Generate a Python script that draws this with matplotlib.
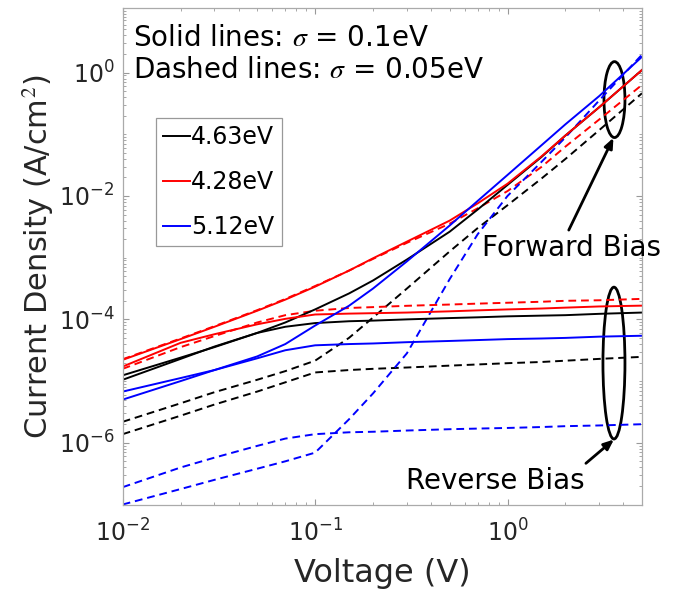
import numpy as np
import matplotlib
matplotlib.use('Agg')
import matplotlib.pyplot as plt
from matplotlib.patches import Ellipse
from matplotlib.lines import Line2D
from matplotlib.ticker import LogLocator, LogFormatterMathtext, NullFormatter

plt.rcParams['font.family'] = 'DejaVu Sans'
plt.rcParams['mathtext.fontset'] = 'stix'

# voltage grid (V)
voltage = [0.01, 0.02, 0.03, 0.05, 0.07, 0.1, 0.15, 0.2, 0.3, 0.5, 0.7, 1, 1.5, 2, 3, 5]

# current density (A/cm^2), solid lines: sigma = 0.1 eV
black_fwd = [1.24e-5, 2.40e-5, 3.55e-5, 6.03e-5, 8.91e-5, 1.45e-4, 2.63e-4, 4.27e-4,
             9.33e-4, 2.63e-3, 6.03e-3, 1.51e-2, 4.27e-2, 9.55e-2, 2.75e-1, 1.10]
black_rev = [1.05e-5, 2.29e-5, 3.63e-5, 6.03e-5, 7.59e-5, 8.71e-5, 9.33e-5, 9.55e-5,
             1.0e-4, 1.05e-4, 1.08e-4, 1.12e-4, 1.15e-4, 1.17e-4, 1.23e-4, 1.29e-4]
red_fwd = [2.21e-5, 4.79e-5, 7.59e-5, 1.38e-4, 2.09e-4, 3.39e-4, 6.17e-4, 9.77e-4,
           1.82e-3, 3.98e-3, 7.59e-3, 1.58e-2, 4.37e-2, 9.55e-2, 2.75e-1, 1.10]
red_rev = [1.72e-5, 4.17e-5, 5.75e-5, 8.32e-5, 1.02e-4, 1.20e-4, 1.24e-4, 1.26e-4,
           1.29e-4, 1.35e-4, 1.40e-4, 1.45e-4, 1.50e-4, 1.55e-4, 1.62e-4, 1.67e-4]
blue_fwd = [5.01e-6, 1.0e-5, 1.51e-5, 2.51e-5, 3.98e-5, 7.94e-5, 1.66e-4, 3.16e-4,
            8.71e-4, 3.31e-3, 8.32e-3, 2.19e-2, 6.61e-2, 1.45e-1, 4.17e-1, 1.80]
blue_rev = [6.76e-6, 1.12e-5, 1.51e-5, 2.34e-5, 3.16e-5, 3.80e-5, 3.98e-5, 4.07e-5,
            4.27e-5, 4.47e-5, 4.62e-5, 4.79e-5, 4.90e-5, 5.01e-5, 5.25e-5, 5.43e-5]

# dashed lines: sigma = 0.05 eV
black_fwd_d = [2.19e-6, 4.37e-6, 6.61e-6, 1.05e-5, 1.45e-5, 2.14e-5, 5.01e-5, 1.07e-4,
               3.16e-4, 1.26e-3, 3.02e-3, 7.08e-3, 1.91e-2, 3.98e-2, 1.17e-1, 4.62e-1]
black_rev_d = [1.38e-6, 2.75e-6, 4.17e-6, 6.76e-6, 9.55e-6, 1.38e-5, 1.51e-5, 1.58e-5,
               1.66e-5, 1.78e-5, 1.86e-5, 1.95e-5, 2.04e-5, 2.14e-5, 2.29e-5, 2.47e-5]
red_fwd_d = [2.26e-5, 4.90e-5, 7.76e-5, 1.41e-4, 2.14e-4, 3.47e-4, 6.17e-4, 9.55e-4,
             1.74e-3, 3.55e-3, 6.31e-3, 1.20e-2, 2.95e-2, 6.31e-2, 1.74e-1, 6.31e-1]
red_rev_d = [1.58e-5, 3.55e-5, 5.37e-5, 8.91e-5, 1.17e-4, 1.38e-4, 1.53e-4, 1.58e-4,
             1.66e-4, 1.74e-4, 1.80e-4, 1.86e-4, 1.93e-4, 2.0e-4, 2.04e-4, 2.15e-4]
blue_fwd_d = [1.0e-7, 1.78e-7, 2.51e-7, 3.80e-7, 5.01e-7, 6.92e-7, 2.40e-6, 6.31e-6,
              2.82e-5, 4.47e-4, 2.40e-3, 1.0e-2, 3.55e-2, 8.91e-2, 3.55e-1, 1.95]
blue_rev_d = [1.91e-7, 3.98e-7, 5.75e-7, 8.91e-7, 1.17e-6, 1.38e-6, 1.48e-6, 1.51e-6,
              1.58e-6, 1.66e-6, 1.70e-6, 1.74e-6, 1.80e-6, 1.86e-6, 1.91e-6, 2.0e-6]

labels = ['4.63eV', '4.28eV', '5.12eV']
colors = ['k', 'r', 'b']

fig = plt.figure(figsize=(6.79, 5.92), dpi=100)
ax = fig.add_axes([0.1807, 0.1478, 0.7648, 0.8382])

lw = 1.4
dash = (4, 2.5)
for fwd, rev, c in zip([black_fwd_d, red_fwd_d, blue_fwd_d], [black_rev_d, red_rev_d, blue_rev_d], colors):
    ax.plot(voltage, fwd, color=c, lw=lw, ls='--', dashes=dash)
    ax.plot(voltage, rev, color=c, lw=lw, ls='--', dashes=dash)
for fwd, rev, c in zip([black_fwd, red_fwd, blue_fwd], [black_rev, red_rev, blue_rev], colors):
    ax.plot(voltage, fwd, color=c, lw=lw)
    ax.plot(voltage, rev, color=c, lw=lw)

ax.set_xscale('log')
ax.set_yscale('log')
ax.set_xlim(0.01, 5)
ax.set_ylim(1e-7, 11)

tc = '#262626'
ax.set_xticks([1e-2, 1e-1, 1e0])
ax.set_yticks([1e-6, 1e-4, 1e-2, 1e0])
ax.xaxis.set_major_formatter(LogFormatterMathtext())
ax.yaxis.set_major_formatter(LogFormatterMathtext())
ax.xaxis.set_minor_locator(LogLocator(base=10, subs=np.arange(2, 10), numticks=20))
ax.yaxis.set_minor_locator(LogLocator(base=10, subs=np.arange(1, 10), numticks=30))
ax.xaxis.set_minor_formatter(NullFormatter())
ax.yaxis.set_minor_formatter(NullFormatter())
ax.tick_params(which='both', direction='in', top=True, right=True, colors='#999999',
               labelcolor=tc, labelsize=17)
ax.tick_params(which='major', length=4.5, width=0.8, pad=6)
ax.tick_params(axis='x', which='major', pad=11)
ax.tick_params(which='minor', length=2.2, width=0.6)
for s in ax.spines.values():
    s.set_color('#aaaaaa')
    s.set_linewidth(0.9)

ax.set_xlabel('Voltage (V)', fontsize=23, color=tc, labelpad=8)
ax.set_ylabel('Current Density (A/cm$^2$)', fontsize=22, color=tc, labelpad=2)

handles = [Line2D([], [], color=c, lw=lw) for c in colors]
leg = ax.legend(handles, labels, loc='upper left', bbox_to_anchor=(0.064, 0.779),
                fontsize=17, handlelength=1.15, handletextpad=0.05, borderaxespad=0,
                labelspacing=0.89, borderpad=0.3, fancybox=False, framealpha=1)
leg.get_frame().set_edgecolor('#999999')
leg.get_frame().set_linewidth(0.9)

ax.text(0.02, 0.94, 'Solid lines: $\\sigma$ = 0.1eV', transform=ax.transAxes,
        fontsize=20, va='center', ha='left', color='k')
ax.text(0.02, 0.876, 'Dashed lines: $\\sigma$ = 0.05eV', transform=ax.transAxes,
        fontsize=20, va='center', ha='left', color='k')

# ellipses marking the forward / reverse bias bundles
ax.add_patch(Ellipse((0.947, 0.816), 0.0404, 0.153, transform=ax.transAxes,
                     fill=False, ec='k', lw=2))
ax.add_patch(Ellipse((0.946, 0.285), 0.0424, 0.306, transform=ax.transAxes,
                     fill=False, ec='k', lw=2))

arrow = dict(arrowstyle='-|>,head_length=0.6,head_width=0.25', lw=2, color='k',
             shrinkA=0, shrinkB=0)
ax.annotate('', xy=(0.945, 0.739), xytext=(0.859, 0.553), xycoords='axes fraction',
            arrowprops=arrow)
ax.annotate('', xy=(0.946, 0.131), xytext=(0.892, 0.083), xycoords='axes fraction',
            arrowprops=arrow)
ax.text(0.864, 0.517, 'Forward Bias', transform=ax.transAxes, fontsize=20,
        ha='center', va='center', clip_on=False)
ax.text(0.7175, 0.047, 'Reverse Bias', transform=ax.transAxes, fontsize=20,
        ha='center', va='center', clip_on=False)

fig.savefig('out.png', dpi=100)
plt.close('all')
